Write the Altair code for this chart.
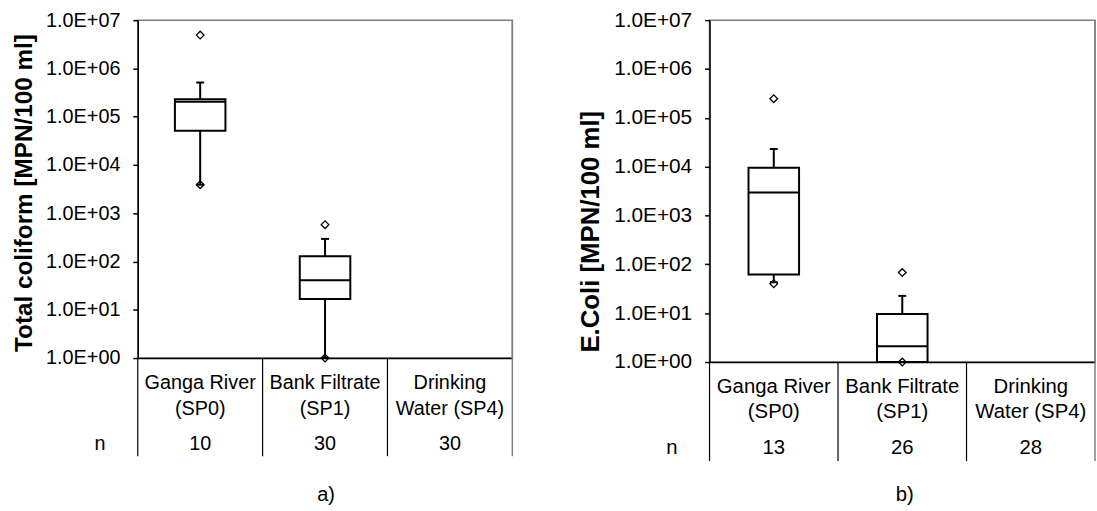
import altair as alt
import pandas as pd

FONT = "Liberation Sans, Arial, sans-serif"

categories = ["Ganga River (SP0)", "Bank Filtrate (SP1)", "Drinking Water (SP4)"]
label_line1 = ["Ganga River", "Bank Filtrate", "Drinking"]
label_line2 = ["(SP0)", "(SP1)", "Water (SP4)"]
tick_values = [1, 10, 100, 1e3, 1e4, 1e5, 1e6, 1e7]
tick_labels = ["1.0E+00", "1.0E+01", "1.0E+02", "1.0E+03",
               "1.0E+04", "1.0E+05", "1.0E+06", "1.0E+07"]

# Panel a) Total coliform
a_title = "Total coliform [MPN/100 ml]"
a_caption = "a)"
a_n = [10, 30, 30]
a_box_cats = ["Ganga River (SP0)", "Bank Filtrate (SP1)"]
a_min = [3.9e3, 1.0]
a_q1 = [5.1e4, 16.7]
a_median = [2.05e5, 41]
a_q3 = [2.3e5, 128]
a_max = [5.1e5, 294]
a_out_cat = ["Ganga River (SP0)", "Ganga River (SP0)", "Bank Filtrate (SP1)", "Bank Filtrate (SP1)"]
a_out_val = [4.9e6, 3.9e3, 580, 1.0]

# Panel b) E.Coli
b_title = "E.Coli [MPN/100 ml]"
b_caption = "b)"
b_n = [13, 26, 28]
b_box_cats = ["Ganga River (SP0)", "Bank Filtrate (SP1)"]
b_min = [43, 1.0]
b_q1 = [62, 1.0]
b_median = [2950, 2.1]
b_q3 = [9500, 9.6]
b_max = [2.3e4, 22.6]
b_out_cat = ["Ganga River (SP0)", "Ganga River (SP0)", "Bank Filtrate (SP1)", "Bank Filtrate (SP1)"]
b_out_val = [2.46e5, 40, 68, 1.0]

label_expr = "[" + ",".join("'%s'" % t for t in tick_labels) + "][round(log(datum.value)/LN10)]"


def panel(title, caption, n_vals, box_cats, vmin, q1, med, q3, vmax, out_cat, out_val,
          W, H, tick_fs, title_fs, cat_fs, title_x, title_y, box_w, offs, cap_x):
    l1, l2, ln, lb, lc = offs
    xscale = alt.Scale(domain=categories, type="band", paddingInner=0, paddingOuter=0)
    xaxis = alt.Axis(labels=False, ticks=False, title=None, domainColor="black",
                     domainWidth=1.5, grid=False)
    yscale = alt.Scale(type="log", domain=[1, 1e7], nice=False)
    yaxis = alt.Axis(values=tick_values, labelExpr=label_expr, title=title,
                     titleFontSize=title_fs, titleFontWeight="bold", titleFont=FONT,
                     titleAngle=-90, titleX=title_x, titleY=title_y, titleBaseline="middle",
                     titleAlign="center",
                     labelFontSize=tick_fs, labelFont=FONT, labelColor="black",
                     tickSize=5, tickColor="black", tickWidth=1.5, labelPadding=13,
                     domainColor="black", domainWidth=1.5, grid=False)

    def X(field="cat", **kw):
        return alt.X(f"{field}:N", scale=xscale, axis=xaxis, **kw)

    def Y(field):
        return alt.Y(f"{field}:Q", scale=yscale, axis=yaxis)

    boxes = pd.DataFrame({"cat": box_cats, "vmin": vmin, "q1": q1, "med": med,
                          "q3": q3, "vmax": vmax})
    outl = pd.DataFrame({"cat": out_cat, "val": out_val})
    table = pd.DataFrame({"cat": categories, "l1": label_line1, "l2": label_line2,
                          "n": [str(v) for v in n_vals]})
    base = alt.Chart(boxes)

    whisk_lo = base.mark_rule(color="black", strokeWidth=2).encode(x=X(), y=Y("vmin"), y2="q1:Q")
    whisk_hi = base.mark_rule(color="black", strokeWidth=2).encode(x=X(), y=Y("q3"), y2="vmax:Q")
    box = base.mark_bar(size=box_w, fill="white", stroke="black", strokeWidth=2).encode(
        x=X(), y=Y("q1"), y2="q3:Q")
    median = base.mark_tick(size=box_w, thickness=2, color="black", opacity=1).encode(
        x=X(), y=Y("med"))
    cap_hi = base.mark_tick(size=8, thickness=2, color="black", opacity=1).encode(
        x=X(), y=Y("vmax"))
    cap_lo = base.mark_tick(size=8, thickness=2, color="black", opacity=1).encode(
        x=X(), y=Y("vmin"))
    pts = alt.Chart(outl).mark_point(shape="diamond", filled=False, color="black",
                                     strokeWidth=1.3, size=60, opacity=1).encode(
        x=X(), y=Y("val"))

    tb = alt.Chart(table)
    seps = tb.mark_rule(color="black", strokeWidth=1.2).encode(
        x=X(bandPosition=0), y=alt.value(H), y2=alt.value(H + lb))
    one = pd.DataFrame({"t": ["n"], "c": [caption]})
    right_edge = alt.Chart(one).mark_rule(color="#7f7f7f", strokeWidth=1.5).encode(
        x=alt.value(W), y=alt.value(0), y2=alt.value(H + lb))
    txt_kw = dict(font=FONT, fontSize=cat_fs, color="black", baseline="middle", align="center")
    t1 = tb.mark_text(**txt_kw).encode(x=X(), y=alt.value(H + l1), text="l1:N")
    t2 = tb.mark_text(**txt_kw).encode(x=X(), y=alt.value(H + l2), text="l2:N")
    tn = tb.mark_text(**txt_kw).encode(x=X(), y=alt.value(H + ln), text="n:N")
    nlab = alt.Chart(one).mark_text(**txt_kw).encode(
        x=alt.value(-38), y=alt.value(H + ln), text="t:N")
    cap = alt.Chart(one).mark_text(**txt_kw).encode(
        x=alt.value(cap_x), y=alt.value(H + lc), text="c:N")

    return alt.layer(whisk_lo, whisk_hi, box, median, cap_hi, cap_lo, pts,
                     seps, right_edge, t1, t2, tn, nlab, cap).properties(width=W, height=H)


pa = panel(a_title, a_caption, a_n, a_box_cats, a_min, a_q1, a_median, a_q3, a_max,
           a_out_cat, a_out_val, W=378, H=341, tick_fs=20, title_fs=24.5, cat_fs=20,
           title_x=-114, title_y=174, box_w=51, offs=(25, 51, 87, 99, 138), cap_x=190)
pb = panel(b_title, b_caption, b_n, b_box_cats, b_min, b_q1, b_median, b_q3, b_max,
           b_out_cat, b_out_val, W=389, H=345, tick_fs=21, title_fs=26, cat_fs=20.5,
           title_x=-120, title_y=213, box_w=51, offs=(25, 50, 87, 100, 134), cap_x=197)

chart = alt.hconcat(pa, pb, spacing=63).properties(
    padding={"left": 11, "top": 6, "right": 0, "bottom": 0},
    background="white",
).configure_view(stroke="#7f7f7f", strokeWidth=1.5)

chart.save("out.html", embed_options={"renderer": "svg", "actions": False})
